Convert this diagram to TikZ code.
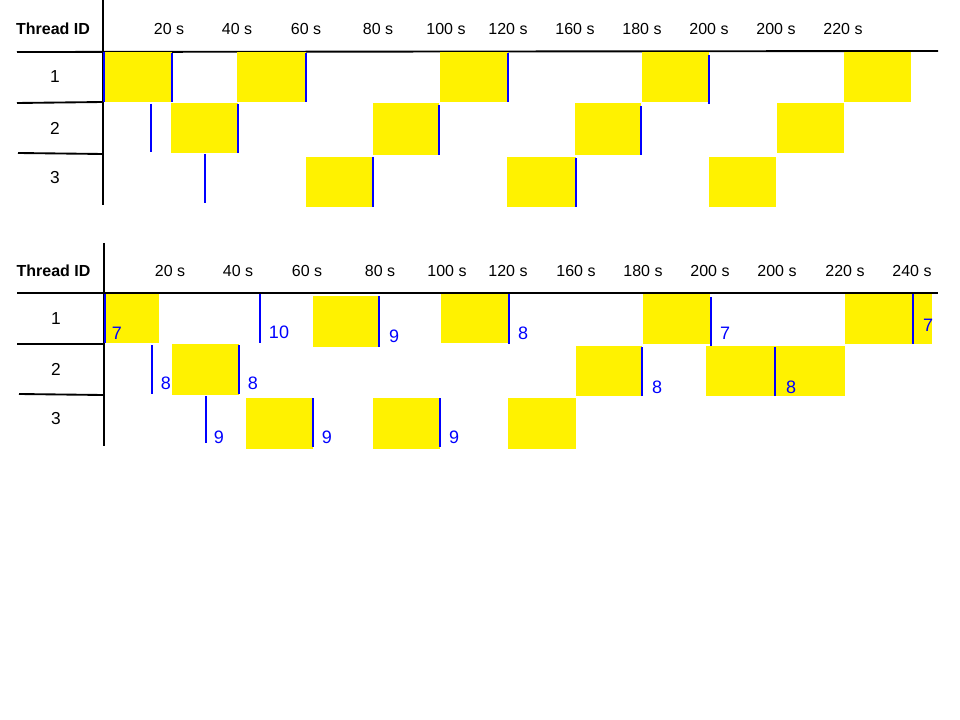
\documentclass[tikz,border=0pt]{standalone}
\usepackage{fontspec}
\setmainfont{Liberation Sans}
\usetikzlibrary{positioning}

\begin{document}
\begin{tikzpicture}[x=0.75pt,y=-0.75pt,
  slot/.style={fill=yellow},
  axis/.style={line width=1.4pt,black},
  bluebar/.style={line width=1.5pt,blue},
  headlab/.style={inner sep=0pt,font=\bfseries\fontsize{12}{14}\selectfont},
  timelab/.style={inner sep=0pt,font=\fontsize{12}{14}\selectfont},
  rowlab/.style={inner sep=0pt,font=\fontsize{13}{15}\selectfont},
  cnt/.style={inner sep=0pt,text=blue,font=\fontsize{13.5}{15}\selectfont}]
  \useasboundingbox[fill=white] (0,0) rectangle (960,720);

  % upper chart
  \draw[axis] (103,0) -- (103,205);
  \draw[axis] (17,52) -- (938,51);
  \draw[axis] (17,103) -- (103,102);
  \draw[axis] (18,153) -- (103,154);
  \node[headlab] (hdA) at (53,29) {Thread ID};
  \foreach \x/\t [count=\i] in {169/20,237/40,306/60,378/80,446/100,508/120,575/160,642/180,709/200,776/200,843/220}
     {\node[timelab] (tA\i) at (\x,29) {\t\ s};}
  \foreach \y/\r in {77/1,128/2,178/3}
     {\node[rowlab] (rA\r) at (55,\y) {\r};}
  \foreach \xa/\ya/\xb/\yb in {104/52/172/102,237/52/306/102,440/52/508/102,642/52/709/102,844/52/911/102,
     171/103/238/153,373/103/439/155,575/103/641/155,777/103/844/153,
     306/157/373/207,507/157/576/207,709/157/776/207}
     {\fill[slot] (\xa,\ya) rectangle (\xb,\yb);}
  \foreach \x/\ya/\yb in {104/52/102,172/53/102,306/53/102,508/53/102,709/55/104,
     151/104/152,238/104/153,439/105/155,641/106/155,
     205/154/203,373/157/207,576/158/207}
     {\draw[bluebar] (\x,\ya) -- (\x,\yb);}

  % lower chart
  \draw[axis] (104,243) -- (104,446);
  \draw[axis] (17,293) -- (938,293);
  \draw[axis] (17,344) -- (103,344);
  \draw[axis] (19,394) -- (103,395);
  \node[headlab] (hdB) at (53.5,271) {Thread ID};
  \foreach \x/\t [count=\i] in {170/20,238/40,307/60,380/80,447/100,508/120,576/160,643/180,710/200,777/200,845/220,912/240}
     {\node[timelab] (tB\i) at (\x,271) {\t\ s};}
  \foreach \y/\r in {319/1,369/2,419/3}
     {\node[rowlab] (rB\r) at (56,\y) {\r};}
  \foreach \xa/\ya/\xb/\yb in {105/294/159/343,313/296/379/347,441/294/508/343,643/294/710/344,845/294/932/344,
     172/344/239/395,576/346/642/396,706/346/845/396,
     246/398/313/449,373/398/440/449,508/398/576/449}
     {\fill[slot] (\xa,\ya) rectangle (\xb,\yb);}
  \foreach \x/\ya/\yb/\lx/\ly/\n [count=\i] in {105/294/343/117/333/7,260/294/343/279/332/10,379/296/347/394/336/9,
     509/294/344/523/333/8,711/297/346/725/333/7,913/294/344/928/325/7,
     152/345/394/166/383/8,239/345/394/253/383/8,642/347/396/657/387/8,775/347/396/791/387/8,
     206/396/443/219/437/9,313/398/447/327/437/9,440/398/447/454/437/9}
     {\draw[bluebar] (\x,\ya) -- (\x,\yb);
      \node[cnt] (c\i) at (\lx,\ly) {\n};}
\end{tikzpicture}
\end{document}
